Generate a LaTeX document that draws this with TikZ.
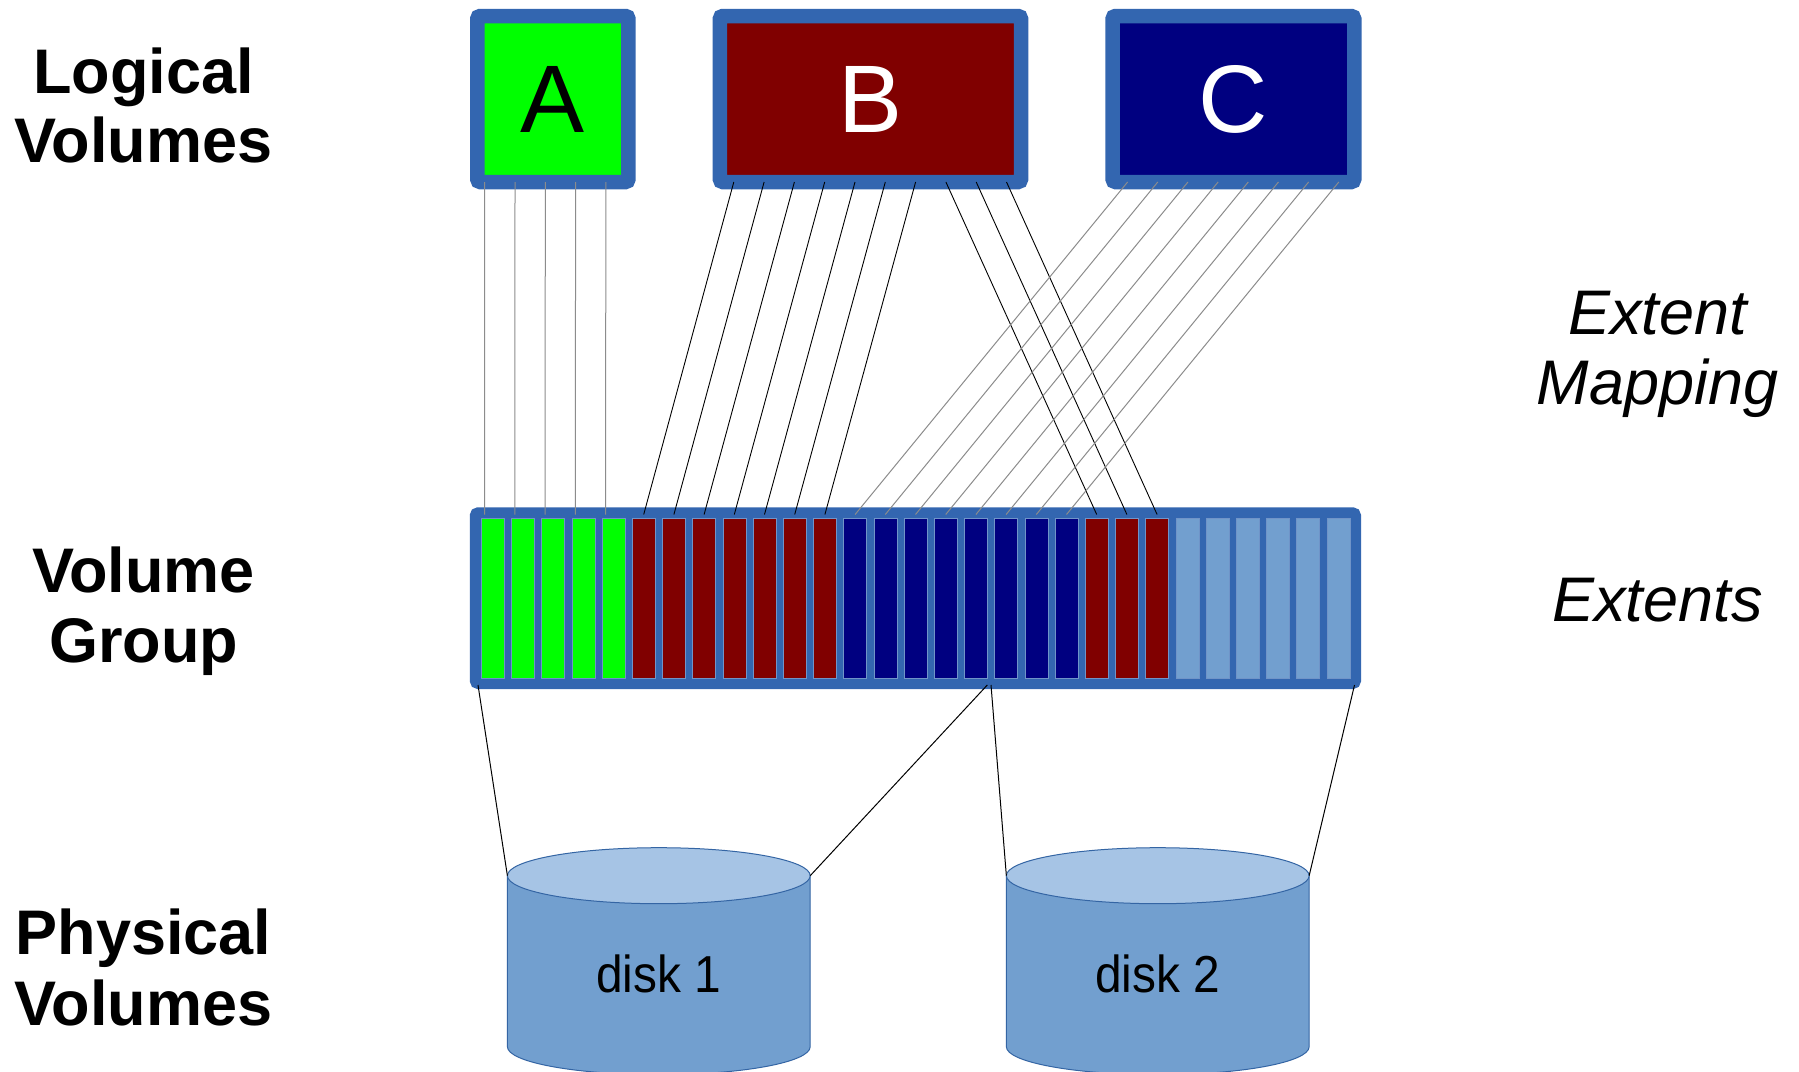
\documentclass[tikz,border=0pt]{standalone}
\usepackage{fontspec}
\setmainfont{Liberation Sans}
\usetikzlibrary{calc}
\definecolor{frame}{HTML}{3366B0}
\definecolor{lvA}{HTML}{00FF00}
\definecolor{lvB}{HTML}{800000}
\definecolor{lvC}{HTML}{000080}
\definecolor{freeext}{HTML}{729FCF}
\definecolor{disktop}{HTML}{A6C4E5}
\definecolor{diskbody}{HTML}{729FCF}
\definecolor{diskedge}{HTML}{3465A4}
\definecolor{mapgray}{HTML}{8C8C8C}
\begin{document}
\begin{tikzpicture}[x=1pt,y=-1pt,
  lvbox/.style={draw=frame, line width=14.5pt, rounded corners=3pt, inner sep=0pt, outer sep=0pt,
    minimum height=166pt, font=\fontsize{96}{96}\selectfont},
  vgbox/.style={draw=frame, fill=frame, line width=11pt, rounded corners=3pt, inner sep=0pt, outer sep=0pt,
    minimum width=880.2pt, minimum height=170.7pt},
  ext/.style={minimum width=23pt, minimum height=159.4pt, inner sep=0pt, outer sep=0pt,
    draw=frame!70!white, line width=0.3pt},
  maplineg/.style={draw=mapgray, line width=1pt},
  maplineb/.style={draw=black, line width=0.9pt},
  pvline/.style={draw=black, line width=1pt},
  layer/.style={font=\fontsize{63}{63}\selectfont\bfseries, anchor=base, inner sep=0pt},
  side/.style={font=\fontsize{63}{63}\selectfont\itshape, anchor=base, inner sep=0pt},
  diskshape/.style={minimum width=302.8pt, minimum height=171pt, inner sep=0pt, outer sep=0pt},
  disklabel/.style={font=\fontsize{52}{52}\selectfont, anchor=base, inner sep=0pt, xscale=0.92},
]
\useasboundingbox (0,0) rectangle (1799,1071);
\clip (0,0) rectangle (1799,1071);
\fill[white] (0,0) rectangle (1799,1071);

% layer labels
\node[layer] (lvl1) at (143.5,93) {Logical};
\node[layer] (lvl2) at (143.5,162) {Volumes};
\node[layer] (vgl1) at (143.5,592) {Volume};
\node[layer] (vgl2) at (143.5,662) {Group};
\node[layer] (pvl1) at (143.5,954) {Physical};
\node[layer] (pvl2) at (143.5,1025) {Volumes};
\node[side] (eml1) at (1657.5,334) {Extent};
\node[side] (eml2) at (1657.5,404) {Mapping};
\node[side] (extl) at (1657.5,621) {Extents};

% logical volumes
\node[lvbox, fill=lvA, minimum width=151.2pt, text=black] (A) at (552.85,99) {A};
\node[lvbox, fill=lvB, minimum width=301.2pt, text=white] (B) at (870.45,99) {B};
\node[lvbox, fill=lvC, minimum width=241.7pt, text=white] (C) at (1233.4,99) {C};

% volume group
\node[vgbox] (VG) at (915.4,598.15) {};
\foreach \c [count=\i] in {lvA,lvA,lvA,lvA,lvA,lvB,lvB,lvB,lvB,lvB,lvB,lvB,lvC,lvC,lvC,lvC,lvC,lvC,lvC,lvC,lvB,lvB,lvB,freeext,freeext,freeext,freeext,freeext,freeext}
  \node[ext, fill=\c] (e\i) at ({492.7+30.2*(\i-1)},598) {};

% extent mapping
\foreach \k [evaluate=\k as \n using int(\k+1)] in {0,...,4}
  \draw[maplineg] ($(A.south west)+({7.45+30.3*\k},0)$) -- ($(e\n.north)+(-8,-3.8)$);
\foreach \k/\e in {0/6,1/7,2/8,3/9,4/10,5/11,6/12,7/21,8/22,9/23}
  \draw[maplineb] ($(B.south west)+({13.95+30.3*\k},0)$) -- ($(e\e.north)+(0,-3.8)$);
\foreach \k/\e in {0/13,1/14,2/15,3/16,4/17,5/18,6/19,7/20}
  \draw[maplineg] ($(C.south west)+({15.05+30.17*\k},0)$) -- ($(e\e.north)+(0,-3.8)$);

% physical volumes
\node[diskshape] (disk1) at (658.8,961.2) {};
\node[diskshape] (disk2) at (1157.75,961.2) {};
\foreach \d in {disk1,disk2} {
  \fill[diskbody] (\d.north west) -- (\d.south west)
     arc[start angle=180, end angle=0, x radius=151.4, y radius=28] -- (\d.north east) -- cycle;
  \draw[diskedge, line width=1pt] (\d.north west) -- (\d.south west)
     arc[start angle=180, end angle=0, x radius=151.4, y radius=28] -- (\d.north east);
  \filldraw[fill=disktop, draw=diskedge, line width=1pt] (\d.north) ellipse[x radius=151.4, y radius=28];
}
\node[disklabel] (d1label) at ($(disk1.north)+(0,116.3)$) {disk 1};
\node[disklabel] (d2label) at ($(disk2.north)+(0,116.3)$) {disk 2};

\draw[pvline] ($(VG.south west)+(2.7,1.5)$) -- (disk1.north west);
\draw[pvline] ($(VG.south west)+(512,1.5)$) -- (disk1.north east);
\draw[pvline] ($(VG.south west)+(515.7,1.5)$) -- (disk2.north west);
\draw[pvline] ($(VG.south east)+(-1,1.5)$) -- (disk2.north east);
\end{tikzpicture}
\end{document}
